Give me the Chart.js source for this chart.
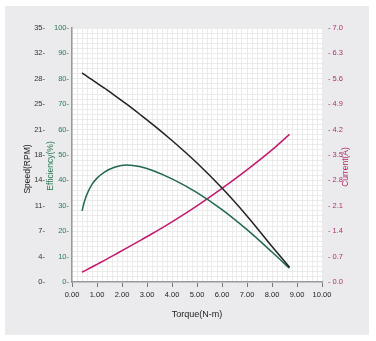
<!DOCTYPE html>
<html>
<head>
<meta charset="utf-8">
<script src="https://cdn.jsdelivr.net/npm/chart.js@4.4.1/dist/chart.umd.min.js"></script>
<style>
  body { margin: 0; background: #fff; }
  #panel { position: absolute; left: 5px; top: 6px; width: 364px; height: 329px; background: #ebebed; }
  #motorChart { position: absolute; left: 0; top: 0; }
</style>
</head>
<body>
<div id="panel"></div>
<canvas id="motorChart" width="376" height="341"></canvas>
<script>
// values
const torque     = [0.4, 0.5, 0.6, 0.8, 1.0, 1.3, 1.7, 2.2, 2.7, 3.2, 4.0, 5.0, 6.0, 7.0, 8.0, 8.7];
const speed      = [28.8, 28.57, 28.34, 27.88, 27.42, 26.7, 25.73, 24.47, 23.15, 21.8, 19.5, 16.4, 12.95, 9.1, 4.9, 2.03];
const efficiency = [28, 31.8, 34.6, 38.4, 40.9, 43.3, 45.2, 46.1, 45.5, 44.0, 40.6, 35.2, 28.5, 20.6, 11.8, 5.4];
const current    = [0.27, 0.305, 0.341, 0.413, 0.487, 0.598, 0.75, 0.94, 1.133, 1.33, 1.66, 2.1, 2.58, 3.09, 3.64, 4.07];

const xTickLabels = ['0.00', '1.00', '2.00', '3.00', '4.00', '5.00', '6.00', '7.00', '8.00', '9.00', '10.00'];
const speedTickLabels = ['0', '4', '7', '11', '14', '18', '21', '25', '28', '32', '35'];
const effTickLabels = ['0', '10', '20', '30', '40', '50', '60', '70', '80', '90', '100'];
const currentTickLabels = ['0.0', '0.7', '1.4', '2.1', '2.8', '3.5', '4.2', '4.9', '5.6', '6.3', '7.0'];

const tickFont = { family: 'Liberation Sans, Arial, sans-serif', size: 7.5 };

function points(ys) {
  return torque.map((t, i) => ({ x: t, y: ys[i] }));
}

const plotBackground = {
  id: 'plotBackground',
  beforeDraw(chart) {
    const { ctx, chartArea } = chart;
    ctx.save();
    ctx.fillStyle = '#ffffff';
    ctx.fillRect(chartArea.left, chartArea.top, chartArea.right - chartArea.left, chartArea.bottom - chartArea.top);
    ctx.restore();
  }
};

// axis titles drawn by hand so the right one reads bottom-to-top like the left ones
const axisTitles = {
  id: 'axisTitles',
  afterDraw(chart) {
    const { ctx, chartArea } = chart;
    const midY = (chartArea.top + chartArea.bottom) / 2;
    ctx.save();
    ctx.textAlign = 'center';
    ctx.textBaseline = 'middle';
    ctx.font = '9px "Liberation Sans", Arial, sans-serif';
    ctx.fillStyle = '#222';
    ctx.fillText('Torque(N-m)', (chartArea.left + chartArea.right) / 2, 315);
    const vertical = (text, x, y, color) => {
      ctx.save();
      ctx.translate(x, y);
      ctx.rotate(-Math.PI / 2);
      ctx.fillStyle = color;
      ctx.fillText(text, 0, 0);
      ctx.restore();
    };
    ctx.font = '8.5px "Liberation Sans", Arial, sans-serif';
    vertical('Speed(RPM)', 28, midY + 14, '#222');
    vertical('Efficiency(%)', 51, midY + 11, '#2a7a55');
    vertical('Current(A)', 346, midY + 12, '#b02a6e');
    ctx.restore();
  }
};

new Chart(document.getElementById('motorChart'), {
  type: 'line',
  data: {
    datasets: [
      { label: 'Speed', data: points(speed), yAxisID: 'speed', borderColor: '#222222', borderWidth: 1.5, pointRadius: 0, cubicInterpolationMode: 'monotone' },
      { label: 'Efficiency', data: points(efficiency), yAxisID: 'eff', borderColor: '#22694f', borderWidth: 1.5, pointRadius: 0, cubicInterpolationMode: 'monotone' },
      { label: 'Current', data: points(current), yAxisID: 'current', borderColor: '#c21a6e', borderWidth: 1.5, pointRadius: 0, cubicInterpolationMode: 'monotone' }
    ]
  },
  options: {
    responsive: false,
    animation: false,
    layout: { padding: { top: 28, left: 0, right: 0, bottom: 0 } },
    plugins: { legend: { display: false }, tooltip: { enabled: false } },
    scales: {
      x: {
        type: 'linear', position: 'bottom', min: 0, max: 10,
        ticks: { stepSize: 1, autoSkip: false, maxRotation: 0, padding: 3, color: '#222', font: tickFont,
                 callback: (v, i) => xTickLabels[i] },
        grid: { color: '#d2d2d2', tickColor: '#777', tickLength: 5 },
        border: { color: '#999', width: 1.5 },
        afterFit: (s) => { s.height = 59; }
      },
      xMinor: {
        type: 'linear', position: 'bottom', min: 0, max: 10,
        ticks: { stepSize: 0.2, maxTicksLimit: 100, display: false },
        grid: { color: '#ebebeb', drawTicks: false, z: -1 },
        border: { display: false },
        afterFit: (s) => { s.height = 0; }
      },
      speed: {
        type: 'linear', position: 'left', weight: 2, min: 0, max: 35,
        ticks: { stepSize: 3.5, padding: 3, color: '#333', font: tickFont,
                 callback: (v, i) => speedTickLabels[i] + '-' },
        grid: { color: '#d2d2d2', drawTicks: false },
        border: { display: false },
        afterFit: (s) => { s.width = 48; }
      },
      eff: {
        type: 'linear', position: 'left', weight: 1, min: 0, max: 100,
        ticks: { stepSize: 10, padding: 3, color: '#2a7a55', font: tickFont,
                 callback: (v, i) => effTickLabels[i] + '-' },
        grid: { display: false, drawTicks: false },
        border: { display: true, color: '#999', width: 1.5 },
        afterFit: (s) => { s.width = 24; }
      },
      yMinor: {
        type: 'linear', position: 'left', weight: 0, min: 0, max: 100,
        ticks: { stepSize: 2, maxTicksLimit: 100, display: false },
        grid: { color: '#ebebeb', drawTicks: false, z: -1 },
        border: { display: false },
        afterFit: (s) => { s.width = 0; }
      },
      current: {
        type: 'linear', position: 'right', min: 0, max: 7,
        ticks: { stepSize: 0.7, padding: 6, color: '#b0306e', font: tickFont,
                 callback: (v, i) => '- ' + currentTickLabels[i] },
        grid: { display: false, drawTicks: false },
        border: { display: false },
        afterFit: (s) => { s.width = 54; }
      }
    }
  },
  plugins: [plotBackground, axisTitles]
});
</script>
</body>
</html>
